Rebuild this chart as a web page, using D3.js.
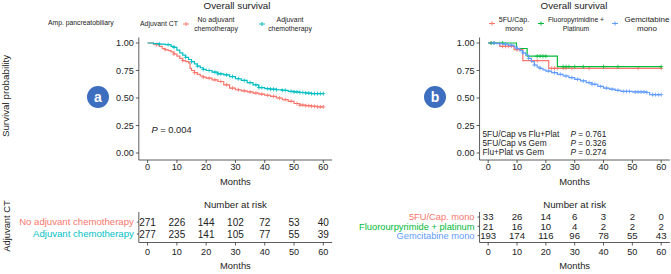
<!DOCTYPE html>
<html><head><meta charset="utf-8">
<script src="https://cdn.jsdelivr.net/npm/d3@7"></script>
<style>body{margin:0;background:#fff}svg{display:block;font-family:"Liberation Sans",Arial,Helvetica,sans-serif}</style>
</head><body><svg id="c" width="671" height="274"></svg>
<script>
// ---------- data ----------
const timeTicks = [0,10,20,30,40,50,60];
const survTicks = [0,0.25,0.5,0.75,1];

// Panel a
const noAdjTimes = [0,2,3,4,5,6,7,8,9,10,11,12,13,14,14.5,15,16,17,18,19,20,22,24,26,28,30,32,34,36,38,40,42,44,46,48,50,52,54,56,58];
const noAdjSurv  = [1,0.99,0.985,0.97,0.95,0.94,0.93,0.92,0.90,0.88,0.86,0.84,0.83,0.82,0.77,0.75,0.73,0.715,0.70,0.69,0.68,0.665,0.65,0.62,0.59,0.575,0.565,0.555,0.545,0.535,0.525,0.515,0.50,0.485,0.47,0.45,0.435,0.43,0.425,0.42];
const noAdjCens  = [3,6,9,12,16,19,21,23,25,27,29,31,33,35,37,39,41,43,45,47,49,51,52,53,54,55,56,57,58,59,60];
const adjTimes = [0,2,4,6,8,9,10,11,12,13,14,15,16,17,18,19,20,22,24,26,28,30,32,34,36,38,40,42,44,46,48,50,52,54,56];
const adjSurv  = [1,0.995,0.99,0.985,0.97,0.96,0.935,0.91,0.89,0.87,0.85,0.83,0.81,0.79,0.775,0.76,0.75,0.735,0.72,0.71,0.695,0.675,0.66,0.64,0.62,0.595,0.585,0.58,0.575,0.57,0.56,0.555,0.55,0.545,0.54];
const adjCens  = [4,7,9,13,15,17,19,21,23,24,25,27,29,31,33,35,37,38,39,41,42,43,44,46,47,49,50,51,52,53,54,55,56,57,58,59,60];
const groupsA = ["No adjuvant chemotherapy","Adjuvant chemotherapy"];
const riskA = [[271,226,144,102,72,53,40],[277,235,141,105,77,55,39]];

// Panel b
const fuTimes = [0,4,9,12,21];
const fuSurv  = [1,0.97,0.94,0.84,0.77];
const fuCens  = [1,5,6,7,8,10,11,15,17,22,23,24,26,27,29,35,52,60];
const fpTimes = [0,9.8,13.5,24];
const fpSurv  = [1,0.95,0.88,0.785];
const fpCens  = [1,2,5,17,18,19,20,26,27,28,30,33,40,45,60];
const gemTimes = [0,3,5,7,9,10,11,12,13,14,15,16,17,18,19,20,22,24,26,28,30,32,34,36,38,40,42,44,46,50,55,56];
const gemSurv  = [1,0.995,0.99,0.98,0.965,0.95,0.93,0.91,0.89,0.86,0.83,0.80,0.78,0.77,0.755,0.745,0.73,0.715,0.70,0.685,0.67,0.655,0.64,0.625,0.605,0.59,0.58,0.57,0.56,0.555,0.55,0.53];
const gemCens  = [2,4,6,8,10,12,14,16,18,21,23,25,27,29,31,33,35,36,37,39,41,43,45,47,48,49,51,52,53,54,55,57,58,59,60];
const groupsB = ["5FU/Cap. mono","Fluorourpyrimide + platinum","Gemcitabine mono"];
const riskB = [[33,26,14,6,3,2,0],[21,16,10,4,2,2,2],[193,174,116,96,78,55,43]];
const pairsB = ["5FU/Cap vs Flu+Plat","5FU/Cap vs Gem","Flu+Plat vs Gem"];
const pvalsB = ["0.761","0.326","0.274"];

const colA = ["#F8766D","#00BFC4"];
const colB = ["#F8766D","#00BA38","#619CFF"];

// ---------- drawing ----------
const svg = d3.select("#c");
const y = d3.scaleLinear().domain([0,1]).range([153,43]);
const yTop = y(1.05), yBot = 160;
const TXT = "#222";

function survAt(times, surv, t){
  let i = d3.bisectRight(times, t) - 1;
  return surv[Math.max(0,i)];
}

function panel(x0, x60, series, cols, groups, risk, rowY, labFont, numFont){
  const x = d3.scaleLinear().domain([0,60]).range([x0,x60]);
  const axL = x(-3), axR = x(63);
  const g = svg.append("g");
  // y axis
  g.append("line").attr("x1",axL).attr("x2",axL).attr("y1",yTop).attr("y2",yBot).attr("stroke","#333").attr("stroke-width",0.8);
  survTicks.forEach(v=>{
    g.append("line").attr("x1",axL-3).attr("x2",axL).attr("y1",y(v)).attr("y2",y(v)).attr("stroke","#333").attr("stroke-width",0.8);
    g.append("text").attr("x",axL-5).attr("y",y(v)).attr("dy","0.35em").attr("text-anchor","end").attr("font-size",9.1).attr("fill",TXT).text(d3.format(".2f")(v));
  });
  // x axis
  g.append("line").attr("x1",axL).attr("x2",axR).attr("y1",yBot).attr("y2",yBot).attr("stroke","#333").attr("stroke-width",0.8);
  timeTicks.forEach(t=>{
    g.append("line").attr("x1",x(t)).attr("x2",x(t)).attr("y1",yBot).attr("y2",yBot+3).attr("stroke","#333").attr("stroke-width",0.8);
    g.append("text").attr("x",x(t)).attr("y",167).attr("dy","0.35em").attr("text-anchor","middle").attr("font-size",9.1).attr("fill",TXT).text(t);
  });
  g.append("text").attr("x",(axL+axR)/2).attr("y",182).attr("dy","0.35em").attr("text-anchor","middle").attr("font-size",9.4).attr("fill",TXT).text("Months");
  // curves
  const line = d3.line().x(d=>x(d[0])).y(d=>y(d[1])).curve(d3.curveStepAfter);
  series.forEach((s,i)=>{
    const pts = s.times.map((t,j)=>[t,s.surv[j]]);
    pts.push([60, s.surv[s.surv.length-1]]);
    g.append("path").attr("d",line(pts)).attr("fill","none").attr("stroke",cols[i]).attr("stroke-width",1.2);
    s.cens.forEach(t=>{
      const cx = x(t), cy = y(survAt(s.times,s.surv,t));
      g.append("path").attr("d",`M${cx},${cy-2}V${cy+2}M${cx-2},${cy}H${cx+2}`).attr("stroke",cols[i]).attr("stroke-width",0.8);
    });
  });
  // risk table
  const tTop = 212, tBot = 242.5;
  g.append("text").attr("x",(axL+axR)/2).attr("y",205).attr("dy","0.35em").attr("text-anchor","middle").attr("font-size",9.7).attr("fill",TXT).text("Number at risk");
  g.append("line").attr("x1",axL).attr("x2",axL).attr("y1",tTop).attr("y2",tBot).attr("stroke","#333").attr("stroke-width",0.8);
  g.append("line").attr("x1",axL).attr("x2",axR).attr("y1",tBot).attr("y2",tBot).attr("stroke","#333").attr("stroke-width",0.8);
  timeTicks.forEach(t=>{
    g.append("line").attr("x1",x(t)).attr("x2",x(t)).attr("y1",tBot).attr("y2",tBot+3).attr("stroke","#333").attr("stroke-width",0.8);
    g.append("text").attr("x",x(t)).attr("y",252).attr("dy","0.35em").attr("text-anchor","middle").attr("font-size",9.1).attr("fill",TXT).text(t);
  });
  g.append("text").attr("x",(axL+axR)/2).attr("y",266).attr("dy","0.35em").attr("text-anchor","middle").attr("font-size",9.4).attr("fill",TXT).text("Months");
  groups.forEach((name,i)=>{
    g.append("line").attr("x1",axL-2).attr("x2",axL).attr("y1",rowY[i]).attr("y2",rowY[i]).attr("stroke","#333").attr("stroke-width",0.8);
    g.append("text").attr("x",axL-5).attr("y",rowY[i]).attr("dy","0.35em").attr("text-anchor","end").attr("font-size",labFont).attr("fill",cols[i]).text(name);
    risk[i].forEach((n,j)=>{
      g.append("text").attr("x",x(timeTicks[j])).attr("y",rowY[i]).attr("dy","0.35em").attr("text-anchor","middle").attr("font-size",numFont).attr("fill",TXT).text(n);
    });
  });
  return {x,g,axL,axR};
}

panel(147.6, 323.3,
  [{times:noAdjTimes,surv:noAdjSurv,cens:noAdjCens},{times:adjTimes,surv:adjSurv,cens:adjCens}],
  colA, groupsA, riskA, [222,234], 9.6, 10);
panel(488.2, 661.2,
  [{times:fuTimes,surv:fuSurv,cens:fuCens},{times:fpTimes,surv:fpSurv,cens:fpCens},{times:gemTimes,surv:gemSurv,cens:gemCens}],
  colB, groupsB, riskB, [217,226.3,235.6], 9.3, 9.6);

// titles
[[237,"Overall survival"],[574,"Overall survival"]].forEach(d=>{
  svg.append("text").attr("x",d[0]).attr("y",6).attr("dy","0.35em").attr("text-anchor","middle").attr("font-size",9.8).attr("fill",TXT).text(d[1]);
});

// side labels
svg.append("text").attr("transform","translate(9,96) rotate(-90)").attr("text-anchor","middle").attr("font-size",9.8).attr("fill",TXT).text("Survival probability");
svg.append("text").attr("transform","translate(10,226) rotate(-90)").attr("text-anchor","middle").attr("font-size",9.4).attr("fill",TXT).text("Adjuvant CT");

// legend A
svg.append("text").attr("x",48).attr("y",23).attr("dy","0.35em").attr("font-size",6.8).attr("fill",TXT).text("Amp. pancreatobiliary");
svg.append("text").attr("x",140).attr("y",24).attr("dy","0.35em").attr("font-size",6.9).attr("fill",TXT).text("Adjuvant CT");
function legKey(cx,cy,col){
  svg.append("path").attr("d",`M${cx-3},${cy}H${cx+3}M${cx},${cy-2}V${cy+2}`).attr("stroke",col).attr("stroke-width",1);
}
function legText(cx,lines,fs){
  lines.forEach((l,i)=>svg.append("text").attr("x",cx).attr("y",19.5+i*8.8).attr("dy","0.35em").attr("text-anchor","middle").attr("font-size",fs).attr("fill",TXT).text(l));
}
legKey(186,24,colA[0]); legText(216,["No adjuvant","chemotherapy"],6.9);
legKey(262,24,colA[1]); legText(290,["Adjuvant","chemotherapy"],6.9);
// legend B
legKey(492,23.5,colB[0]); legText(514,["5FU/Cap.","mono"],7.1);
legKey(541,23.5,colB[1]); legText(576,["Fluoropyrimidine +","Platinum"],6.8);
legKey(615,23.5,colB[2]); legText(647,["Gemcitabine","mono"],8);

// panel badges
[[98,97,"a"],[435,97,"b"]].forEach(d=>{
  svg.append("circle").attr("cx",d[0]).attr("cy",d[1]).attr("r",11).attr("fill","#3D6EBF");
  svg.append("text").attr("x",d[0]).attr("y",d[1]).attr("dy","0.36em").attr("text-anchor","middle").attr("font-size",14).attr("font-weight","bold").attr("fill","#fff").text(d[2]);
});

// p-values
const pt = svg.append("text").attr("x",151.5).attr("y",130).attr("dy","0.35em").attr("font-size",9.3).attr("fill",TXT);
pt.append("tspan").attr("font-style","italic").text("P");
pt.append("tspan").text(" = 0.004");
pairsB.forEach((p,i)=>{
  const yy = [134.3,143.3,152.3][i];
  svg.append("text").attr("x",482.5).attr("y",yy).attr("dy","0.35em").attr("font-size",8.3).attr("fill",TXT).text(p);
  const t = svg.append("text").attr("x",570.5).attr("y",yy).attr("dy","0.35em").attr("font-size",8.3).attr("fill",TXT);
  t.append("tspan").attr("font-style","italic").text("P");
  t.append("tspan").text(" = "+pvalsB[i]);
});
</script></body></html>
